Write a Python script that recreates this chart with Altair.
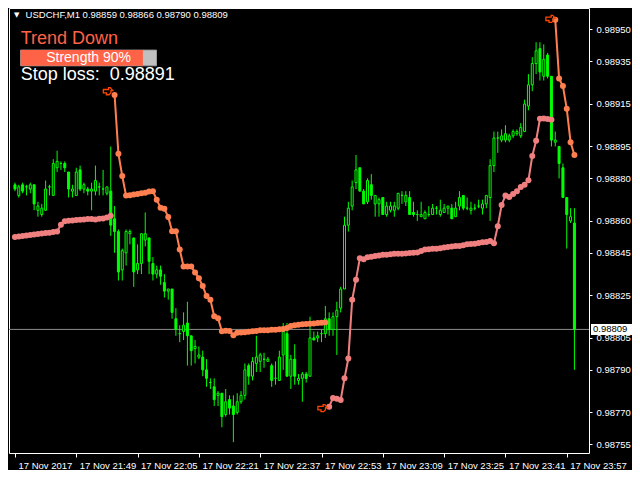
import altair as alt
import pandas as pd

# ---------------- data ----------------
open_ = [0.98877, 0.98872, 0.98877, 0.98876, 0.98875, 0.98877, 0.98865, 0.98863, 0.98865, 0.98876,
         0.98872, 0.98885, 0.98887, 0.98887, 0.98883, 0.98874, 0.98872, 0.98884, 0.98875, 0.98875,
         0.98874, 0.98874, 0.98876, 0.98875, 0.98873, 0.98874, 0.98861, 0.98855, 0.98837, 0.98845,
         0.98854, 0.98852, 0.98837, 0.98840, 0.98851, 0.98852, 0.98840, 0.98835, 0.98837, 0.98831,
         0.98827, 0.98828, 0.98814, 0.98807, 0.98808, 0.98812, 0.98806, 0.98800, 0.98796, 0.98796,
         0.98790, 0.98784, 0.98782, 0.98778, 0.98779, 0.98769, 0.98776, 0.98773, 0.98770, 0.98775,
         0.98778, 0.98792, 0.98787, 0.98793, 0.98794, 0.98795, 0.98794, 0.98792, 0.98786, 0.98785,
         0.98797, 0.98807, 0.98787, 0.98795, 0.98785, 0.98786, 0.98788, 0.98787, 0.98805, 0.98805,
         0.98807, 0.98807, 0.98814, 0.98809, 0.98815, 0.98819, 0.98828, 0.98858, 0.98867, 0.98878,
         0.98885, 0.98874, 0.98869, 0.98877, 0.98868, 0.98868, 0.98871, 0.98863, 0.98865, 0.98865,
         0.98866, 0.98872, 0.98869, 0.98871, 0.98864, 0.98863, 0.98862, 0.98861, 0.98863, 0.98863,
         0.98866, 0.98863, 0.98864, 0.98866, 0.98866, 0.98862, 0.98867, 0.98872, 0.98866, 0.98865,
         0.98866, 0.98867, 0.98866, 0.98868, 0.98871, 0.98886, 0.98899, 0.98898, 0.98898, 0.98898,
         0.98900, 0.98901, 0.98900, 0.98902, 0.98914, 0.98924, 0.98934, 0.98941, 0.98928, 0.98938,
         0.98928, 0.98897, 0.98895, 0.98885, 0.98871, 0.98860, 0.98859]

high = [0.98878, 0.98877, 0.98878, 0.98877, 0.98878, 0.98877, 0.98869, 0.98868, 0.98879, 0.98877,
        0.98889, 0.98893, 0.98888, 0.98888, 0.98883, 0.98877, 0.98885, 0.98886, 0.98878, 0.98876,
        0.98878, 0.98886, 0.98878, 0.98884, 0.98876, 0.98895, 0.98867, 0.98856, 0.98847, 0.98856,
        0.98856, 0.98852, 0.98849, 0.98854, 0.98864, 0.98852, 0.98843, 0.98839, 0.98839, 0.98835,
        0.98828, 0.98828, 0.98819, 0.98811, 0.98817, 0.98822, 0.98806, 0.98804, 0.98801, 0.98799,
        0.98795, 0.98786, 0.98786, 0.98780, 0.98779, 0.98781, 0.98778, 0.98778, 0.98779, 0.98780,
        0.98793, 0.98793, 0.98796, 0.98806, 0.98798, 0.98798, 0.98796, 0.98793, 0.98794, 0.98799,
        0.98812, 0.98812, 0.98797, 0.98802, 0.98788, 0.98789, 0.98789, 0.98815, 0.98808, 0.98808,
        0.98809, 0.98820, 0.98817, 0.98817, 0.98822, 0.98829, 0.98862, 0.98869, 0.98879, 0.98891,
        0.98885, 0.98875, 0.98880, 0.98882, 0.98872, 0.98871, 0.98871, 0.98869, 0.98869, 0.98869,
        0.98873, 0.98874, 0.98874, 0.98874, 0.98869, 0.98865, 0.98869, 0.98865, 0.98867, 0.98868,
        0.98867, 0.98870, 0.98868, 0.98867, 0.98868, 0.98869, 0.98874, 0.98872, 0.98871, 0.98869,
        0.98868, 0.98870, 0.98870, 0.98872, 0.98889, 0.98902, 0.98902, 0.98903, 0.98905, 0.98901,
        0.98903, 0.98903, 0.98906, 0.98917, 0.98929, 0.98937, 0.98944, 0.98944, 0.98943, 0.98939,
        0.98928, 0.98902, 0.98895, 0.98887, 0.98871, 0.98866, 0.98866]

low = [0.98874, 0.98871, 0.98873, 0.98872, 0.98873, 0.98865, 0.98862, 0.98862, 0.98865, 0.98872,
       0.98872, 0.98883, 0.98884, 0.98883, 0.98871, 0.98871, 0.98872, 0.98874, 0.98873, 0.98872,
       0.98865, 0.98872, 0.98872, 0.98872, 0.98872, 0.98853, 0.98845, 0.98832, 0.98832, 0.98839,
       0.98849, 0.98829, 0.98835, 0.98835, 0.98848, 0.98835, 0.98832, 0.98833, 0.98830, 0.98824,
       0.98823, 0.98814, 0.98806, 0.98803, 0.98804, 0.98792, 0.98792, 0.98793, 0.98795, 0.98787,
       0.98782, 0.98781, 0.98773, 0.98773, 0.98763, 0.98768, 0.98769, 0.98756, 0.98769, 0.98774,
       0.98776, 0.98783, 0.98785, 0.98789, 0.98789, 0.98791, 0.98794, 0.98782, 0.98783, 0.98785,
       0.98790, 0.98787, 0.98781, 0.98783, 0.98783, 0.98775, 0.98784, 0.98787, 0.98804, 0.98803,
       0.98803, 0.98805, 0.98806, 0.98806, 0.98797, 0.98817, 0.98828, 0.98855, 0.98865, 0.98875,
       0.98874, 0.98868, 0.98868, 0.98870, 0.98862, 0.98862, 0.98863, 0.98862, 0.98864, 0.98862,
       0.98865, 0.98868, 0.98867, 0.98863, 0.98862, 0.98860, 0.98862, 0.98861, 0.98862, 0.98863,
       0.98863, 0.98862, 0.98864, 0.98863, 0.98861, 0.98862, 0.98865, 0.98865, 0.98865, 0.98863,
       0.98865, 0.98866, 0.98863, 0.98866, 0.98860, 0.98883, 0.98892, 0.98897, 0.98897, 0.98897,
       0.98899, 0.98900, 0.98899, 0.98902, 0.98912, 0.98921, 0.98929, 0.98926, 0.98926, 0.98927,
       0.98895, 0.98895, 0.98880, 0.98871, 0.98847, 0.98859, 0.98790]

close = [0.98875, 0.98876, 0.98874, 0.98876, 0.98877, 0.98868, 0.98867, 0.98866, 0.98875, 0.98876,
         0.98887, 0.98888, 0.98887, 0.98885, 0.98875, 0.98875, 0.98883, 0.98875, 0.98877, 0.98874,
         0.98875, 0.98879, 0.98876, 0.98875, 0.98876, 0.98858, 0.98855, 0.98836, 0.98846, 0.98855,
         0.98855, 0.98836, 0.98840, 0.98854, 0.98854, 0.98841, 0.98835, 0.98837, 0.98834, 0.98827,
         0.98828, 0.98817, 0.98809, 0.98807, 0.98811, 0.98806, 0.98799, 0.98801, 0.98797, 0.98790,
         0.98786, 0.98784, 0.98776, 0.98779, 0.98768, 0.98775, 0.98772, 0.98769, 0.98775, 0.98778,
         0.98790, 0.98787, 0.98794, 0.98796, 0.98797, 0.98795, 0.98795, 0.98785, 0.98786, 0.98796,
         0.98808, 0.98787, 0.98795, 0.98787, 0.98786, 0.98788, 0.98786, 0.98805, 0.98804, 0.98806,
         0.98807, 0.98814, 0.98809, 0.98815, 0.98818, 0.98828, 0.98858, 0.98866, 0.98876, 0.98884,
         0.98874, 0.98868, 0.98879, 0.98872, 0.98872, 0.98870, 0.98863, 0.98867, 0.98867, 0.98867,
         0.98873, 0.98872, 0.98872, 0.98863, 0.98863, 0.98863, 0.98863, 0.98864, 0.98863, 0.98866,
         0.98866, 0.98865, 0.98866, 0.98867, 0.98861, 0.98866, 0.98871, 0.98866, 0.98866, 0.98866,
         0.98866, 0.98867, 0.98868, 0.98872, 0.98886, 0.98899, 0.98899, 0.98900, 0.98901, 0.98900,
         0.98902, 0.98902, 0.98904, 0.98915, 0.98924, 0.98934, 0.98940, 0.98930, 0.98936, 0.98928,
         0.98898, 0.98898, 0.98887, 0.98871, 0.98863, 0.98862, 0.98809]

# trailing stop (one value per bar)
stop = [0.988524, 0.988527, 0.988529, 0.988532, 0.988534, 0.988536, 0.988539, 0.988541, 0.988543, 0.988545,
        0.988548, 0.988550, 0.988582, 0.988599, 0.988601, 0.988602, 0.988604, 0.988606, 0.988607, 0.988609,
        0.988609, 0.988607, 0.988610, 0.988611, 0.988616, 0.988624,
        0.989192, 0.988916, 0.988811, 0.988719, 0.988721, 0.988724, 0.988727, 0.988730, 0.988733, 0.988738,
        0.988740, 0.988699, 0.988662, 0.988657, 0.988619, 0.988552, 0.988552, 0.988466, 0.988386, 0.988386,
        0.988386, 0.988358, 0.988330, 0.988294, 0.988247, 0.988229, 0.988152, 0.988143, 0.988081, 0.988084,
        0.988083, 0.988063, 0.988074, 0.988075, 0.988077, 0.988079, 0.988081, 0.988083, 0.988086, 0.988086,
        0.988086, 0.988088, 0.988089, 0.988091, 0.988092, 0.988097, 0.988106, 0.988109, 0.988112, 0.988114,
        0.988115, 0.988117, 0.988118, 0.988120, 0.988121, 0.988123,
        0.987727, 0.987768, 0.987764, 0.987758, 0.987860, 0.987953, 0.988229, 0.988324, 0.988424, 0.988420,
        0.988429, 0.988432, 0.988435, 0.988438, 0.988441, 0.988441, 0.988443, 0.988446, 0.988446, 0.988446,
        0.988447, 0.988449, 0.988450, 0.988452, 0.988459, 0.988466, 0.988467, 0.988469, 0.988469, 0.988472,
        0.988475, 0.988478, 0.988480, 0.988482, 0.988482, 0.988486, 0.988490, 0.988492, 0.988493, 0.988496,
        0.988500, 0.988501, 0.988506, 0.988495, 0.988575, 0.988675, 0.988719, 0.988713, 0.988727, 0.988739,
        0.988759, 0.988770, 0.988791, 0.988905, 0.988977, 0.989080, 0.989082, 0.989079, 0.989076,
        0.989546, 0.989269, 0.989234, 0.989127, 0.988970, 0.988910]

trend_start = [0, 26, 82, 141]
trend_dir = ["up", "down", "up", "down"]

signal_bar = [24.3, 80.3, 139.8]
signal_price = [0.98921, 0.98772, 0.98955]

time_ticks = [0, 16, 32, 48, 64, 80, 96, 112, 128, 144]
time_labels = ["17 Nov 2017", "17 Nov 21:49", "17 Nov 22:05", "17 Nov 22:21", "17 Nov 22:37",
               "17 Nov 22:53", "17 Nov 23:09", "17 Nov 23:25", "17 Nov 23:41", "17 Nov 23:57"]
price_ticks = [0.98950, 0.98935, 0.98915, 0.98895, 0.98880, 0.98860,
               0.98845, 0.98825, 0.98805, 0.98790, 0.98770, 0.98755]

symbol = "USDCHF,M1"
trend_text = "Trend Down"
strength = 90

# ---------------- styling ----------------
GREEN = "#00FF00"
UP_COL = "#F08080"
DOWN_COL = "#FF7F50"
FONT = "Liberation Sans"
W, H = 580, 445

n = len(open_)
bars = pd.DataFrame({"i": list(range(n)), "open": open_, "high": high,
                     "low": low, "close": close})

trend, seg = [], []
for k, s in enumerate(trend_start):
    e = trend_start[k + 1] if k + 1 < len(trend_start) else n
    trend += [trend_dir[k]] * (e - s)
    seg += [k] * (e - s)
stops = pd.DataFrame({"i": list(range(n)), "stop": stop, "trend": trend, "seg": seg})

signals = pd.DataFrame({"i": signal_bar, "p": signal_price})
last = pd.DataFrame({"p": [close[-1]], "lbl": [f"{close[-1]:.5f}"]})

xscale = alt.Scale(domain=[-0.25, 148.5], nice=False, zero=False)
yscale = alt.Scale(domain=[0.987509, 0.989601], nice=False, zero=False)

labels_js = "[" + ",".join("'" + t + "'" for t in time_labels) + "]"
ticks_js = "[" + ",".join(str(v) for v in time_ticks) + "]"
xaxis = alt.Axis(values=time_ticks, labelExpr=f"{labels_js}[indexof({ticks_js}, datum.value)]",
                 labelAlign="left", labelOffset=3, labelPadding=3, tickSize=4,
                 tickColor="white", labelColor="white", labelFont=FONT, labelFontSize=9.5,
                 domain=False, grid=False, labelOverlap=False, labelFlush=False, title=None)
yaxis = alt.Axis(orient="right", values=price_ticks, format=".5f", tickSize=3, labelPadding=4,
                 tickColor="white", labelColor="white", labelFont=FONT, labelFontSize=9.5,
                 domain=False, grid=False, labelOverlap=False, labelFlush=False, title=None)

X = lambda f: alt.X(f, scale=xscale, axis=xaxis)
Y = lambda f: alt.Y(f, scale=yscale, axis=yaxis)

price_line = alt.Chart(last).mark_rule(color="#8C8C8C", strokeWidth=1).encode(y=Y("p:Q"))

wicks = alt.Chart(bars).mark_rule(color=GREEN, strokeWidth=1).encode(
    x=X("i:Q"), y=Y("low:Q"), y2="high:Q")

bodies = alt.Chart(bars).mark_bar(size=2, stroke=GREEN, strokeWidth=1).encode(
    x=X("i:Q"), y=Y("open:Q"), y2="close:Q",
    fill=alt.when(alt.datum.close >= alt.datum.open).then(alt.value("#000000")).otherwise(alt.value(GREEN)))

col = alt.Color("trend:N", scale=alt.Scale(domain=["up", "down"], range=[UP_COL, DOWN_COL]), legend=None)
stop_line = alt.Chart(stops).mark_line(strokeWidth=2).encode(
    x=X("i:Q"), y=Y("stop:Q"), detail="seg:N", color=col)
stop_dots = alt.Chart(stops).mark_circle(size=36, opacity=1).encode(
    x=X("i:Q"), y=Y("stop:Q"), color=col)

HAND = ("M-1,-0.35 L0.1,-0.35 L0.1,-0.75 L0.45,-0.75 L1,-0.1 L0.6,-0.1 L0.6,0.35 "
        "L0.2,0.75 L-0.35,0.75 L-0.35,0.35 L-1,0.35 Z")
sig = alt.Chart(signals).mark_point(shape=HAND, size=90, filled=False, stroke="#FF4500",
                                    strokeWidth=1.3, opacity=1).encode(x=X("i:Q"), y=Y("p:Q"))

box = alt.Chart(last).mark_tick(orient="horizontal", size=41, thickness=11, color="white",
                                opacity=1).encode(y=Y("p:Q"), x=alt.value(W + 22.5))
box_txt = alt.Chart(last).mark_text(align="left", baseline="middle", color="black", font=FONT,
                                    fontSize=9.5).encode(y=Y("p:Q"), x=alt.value(W + 4), text="lbl:N")

one = pd.DataFrame({"t": [""]})
hdr = f"{symbol}  {open_[-1]:.5f} {high[-1]:.5f} {low[-1]:.5f} {close[-1]:.5f}"
tri = alt.Chart(one).mark_text(text="\u25bc", font="DejaVu Sans", fontSize=7, color="white").encode(
    x=alt.value(7.8), y=alt.value(6.9))
header = alt.Chart(pd.DataFrame({"t": [hdr]})).mark_text(
    align="left", baseline="middle", color="white", font=FONT, fontSize=9.5).encode(
    x=alt.value(16.6), y=alt.value(6.9), text="t:N")
trend_lbl = alt.Chart(pd.DataFrame({"t": [trend_text]})).mark_text(
    align="left", baseline="middle", color="#FF6347", font=FONT, fontSize=18).encode(
    x=alt.value(11.7), y=alt.value(31.4), text="t:N")
bx0, bx1 = 11.7, 147.5
bar_bg = alt.Chart(one).mark_rect(fill="#C0C0C0", stroke="#9A9A9A", strokeWidth=1).encode(
    x=alt.value(bx0), x2=alt.value(bx1), y=alt.value(42.1), y2=alt.value(57.8))
bar_fg = alt.Chart(one).mark_rect(fill="#FF6347").encode(
    x=alt.value(bx0), x2=alt.value(bx0 + (bx1 - bx0) * strength / 100),
    y=alt.value(42.1), y2=alt.value(57.8))
bar_txt = alt.Chart(pd.DataFrame({"t": [f"Strength {strength}%"]})).mark_text(
    align="center", baseline="middle", color="white", font=FONT, fontSize=14).encode(
    x=alt.value((bx0 + bx1) / 2), y=alt.value(50.2), text="t:N")
sl_txt = alt.Chart(pd.DataFrame({"t": [f"Stop loss:\u00a0 {stop[-1]:.5f}"]})).mark_text(
    align="left", baseline="middle", color="white", font=FONT, fontSize=18).encode(
    x=alt.value(11.7), y=alt.value(67.1), text="t:N")

chart = alt.layer(
    price_line, wicks, bodies, stop_line, stop_dots, sig, box, box_txt,
    tri, header, trend_lbl, bar_bg, bar_fg, bar_txt, sl_txt
).properties(
    width=W, height=H, background="black",
    padding={"left": 0, "top": 0, "right": 0, "bottom": 0}
).configure_view(stroke="white", strokeWidth=1)

chart.save("out.html", embed_options={"renderer": "svg", "actions": False})
